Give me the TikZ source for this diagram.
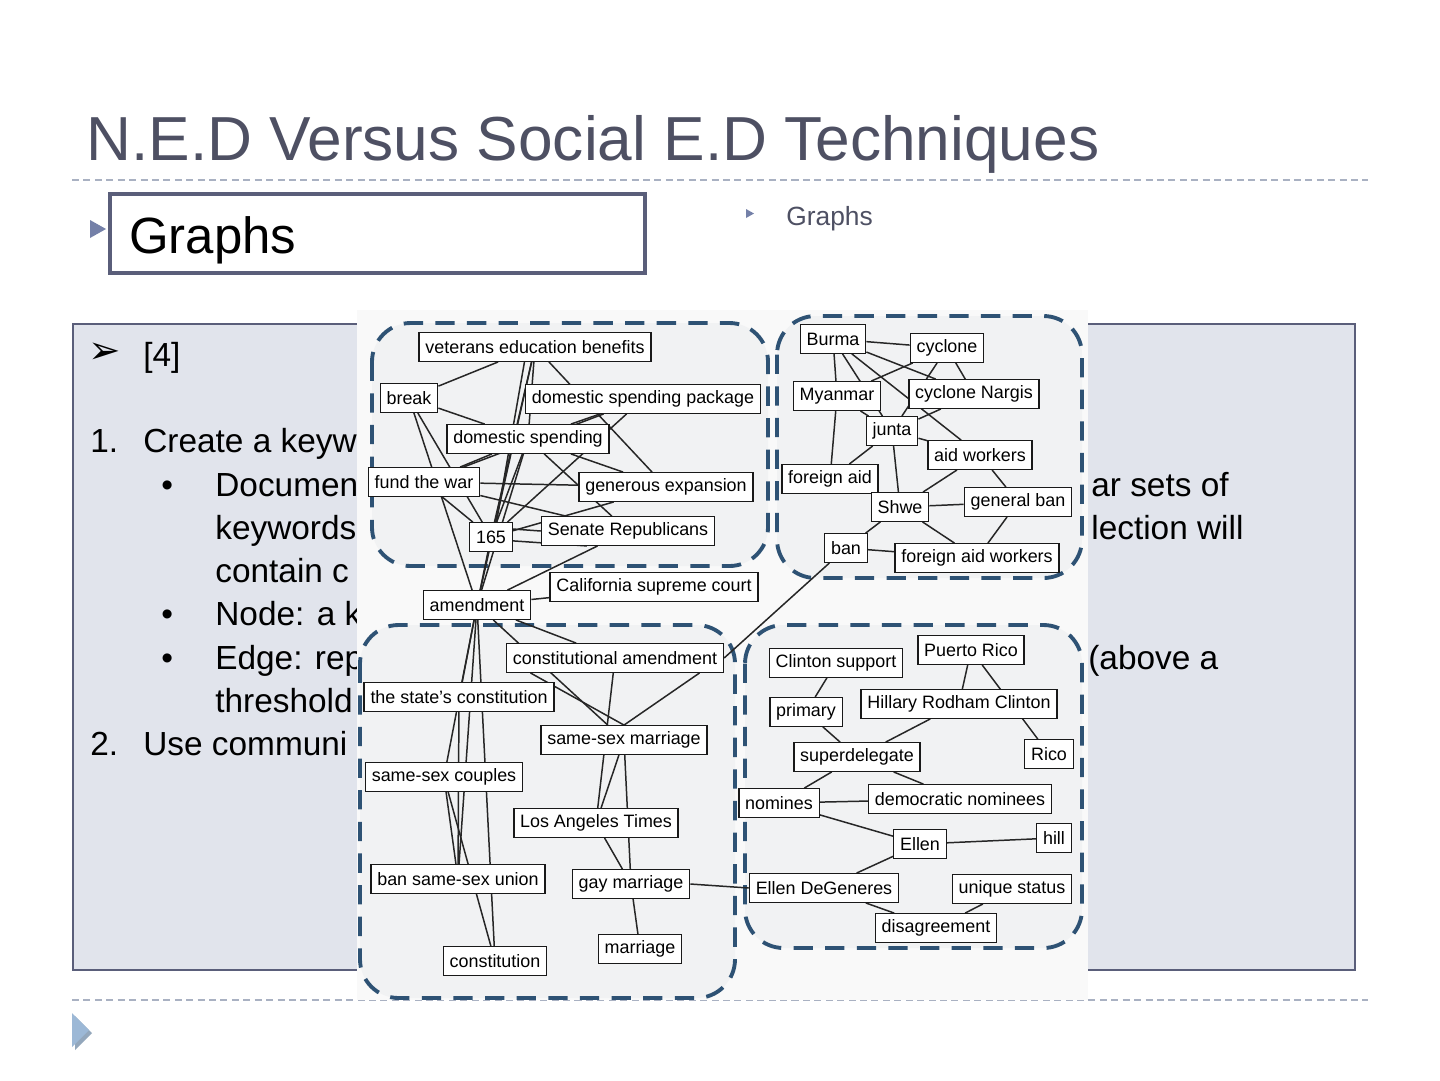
\documentclass[tikz,border=0pt]{standalone}
\usepackage{fontspec}
\setmainfont{Liberation Sans}
\newfontfamily\arrowfont{DejaVu Sans}
\usepackage{tikz}
\usepackage{xcolor}

\definecolor{titlegray}{HTML}{4E5063}
\definecolor{rulegray}{HTML}{A9B1C2}
\definecolor{panelfill}{HTML}{E1E4EC}
\definecolor{panelline}{HTML}{5A5E7A}
\definecolor{bulletblue}{HTML}{7480A8}
\definecolor{footblue}{HTML}{9CB8D6}
\definecolor{groupblue}{HTML}{2E5274}
\definecolor{groupfill}{HTML}{F1F2F3}
\definecolor{imgbg}{HTML}{F9F9F9}

\pgfdeclarelayer{back}
\pgfdeclarelayer{mid}
\pgfsetlayers{back,mid,main}

\begin{document}
\begin{tikzpicture}[x=0.02cm,y=-0.02cm,
  kw/.style={draw=black!90, fill=white, line width=0.8pt, inner xsep=3.6pt, inner ysep=0pt,
    minimum height=16.2pt, font=\fontsize{10.2}{12}\selectfont},
  link/.style={black!85, line width=0.85pt},
  group/.style={draw=groupblue, fill=groupfill, line width=2.2pt, dash pattern=on 11pt off 7pt,
    rounded corners=22pt},
  body/.style={anchor=base west, inner sep=0pt, font=\fontsize{19}{22}\selectfont},
  dashrule/.style={rulegray, line width=0.8pt, dash pattern=on 4pt off 2.5pt}]

  \useasboundingbox (0,0) rectangle (1440,1080);

  \begin{pgfonlayer}{back}
  \fill[white] (0,0) rectangle (1440,1080);
  \node[anchor=base west, inner sep=0pt, text=titlegray, font=\fontsize{35.4}{40}\selectfont]
    (title) at (86,160) {N.E.D Versus Social E.D Techniques};
  \draw[dashrule] (72,180) -- (1368,180);
  \draw[dashrule] (72,1000) -- (1368,1000);

  \fill[bulletblue] (90,220) -- (106,229) -- (90,238) -- cycle;
  \draw[panelline, line width=2pt, fill=white] (110,194) rectangle (645,273);
  \node[anchor=base west, inner sep=0pt, font=\fontsize{29}{34}\selectfont] (graphsbig) at (129,253) {Graphs};
  \fill[bulletblue] (746,209) -- (754,213.5) -- (746,218) -- cycle;
  \node[anchor=base west, inner sep=0pt, text=titlegray, font=\fontsize{15}{18}\selectfont]
    (graphssmall) at (786,225) {Graphs};

  \draw[panelline, line width=1.2pt, fill=panelfill] (73,324) rectangle (1355,970);
  \node[body, font=\arrowfont\fontsize{22}{24}\selectfont] (refmark) at (88,363) {➢};
  \node[body] (ref) at (143,366) {[4]};
  \node[body] (num1) at (90,452) {1.};
  \node[body] (step1) at (143,452) {Create a keyw};
  \foreach \y/\nm in {496/dotA, 625/dotB, 669/dotC}
    \node[body] (\nm) at (161,\y) {•};
  \node[body] (docs) at (215,496) {Documen};
  \node[body] (kwds) at (215,539) {keywords};
  \node[body] (cont) at (215,582) {contain c};
  \node[body] (nodeline) at (215,625) {Node: a k};
  \node[body] (edgeline) at (215,669) {Edge: rep};
  \node[body] (thres) at (215,712) {threshold};
  \node[body] (num2) at (90,755) {2.};
  \node[body] (step2) at (143,755) {Use communi};
  \node[body] (docsend) at (1091,496) {ar sets of};
  \node[body] (kwdsend) at (1091,539) {lection will};
  \node[body] (edgeend) at (1088,669) {(above a};

  \fill[footblue!70!gray] (75,1016) -- (92,1033) -- (75,1050) -- cycle;
  \fill[footblue] (72,1013) -- (89,1030) -- (72,1047) -- cycle;

  \fill[imgbg] (357,310) rectangle (1088,1000);
  \draw[group] (372,323) rectangle (768,566);
  \draw[group] (777,316) rectangle (1082,578);
  \draw[group] (360,625) rectangle (735,998);
  \draw[group] (745,625) rectangle (1082,948);
  \end{pgfonlayer}

  \node[kw] (veb) at (535,347) {veterans education benefits};
  \node[kw] (break) at (409,398) {break};
  \node[kw] (dsp) at (643,399) {domestic spending package};
  \node[kw] (ds) at (528,439) {domestic spending};
  \node[kw] (ftw) at (424,482) {fund the war};
  \node[kw] (ge) at (666,487) {generous expansion};
  \node[kw] (n165) at (491,537) {165};
  \node[kw] (sr) at (628,531) {Senate Republicans};
  \node[kw] (csc) at (654,587) {California supreme court};
  \node[kw] (amend) at (477,605) {amendment};

  \node[kw] (burma) at (833,339) {Burma};
  \node[kw] (cyclone) at (947,348) {cyclone};
  \node[kw] (myanmar) at (837,396) {Myanmar};
  \node[kw] (nargis) at (974,394) {cyclone Nargis};
  \node[kw] (junta) at (892,431) {junta};
  \node[kw] (aid) at (980,455) {aid workers};
  \node[kw] (fa) at (830,479) {foreign aid};
  \node[kw] (shwe) at (900,507) {Shwe};
  \node[kw] (gb) at (1018,502) {general ban};
  \node[kw] (ban) at (846,548) {ban};
  \node[kw] (faw) at (977,558) {foreign aid workers};

  \node[kw] (ca) at (615,658) {constitutional amendment};
  \node[kw] (tsc) at (459,697) {the state's constitution};
  \node[kw] (ssm) at (624,740) {same-sex marriage};
  \node[kw] (ssc) at (444,777) {same-sex couples};
  \node[kw] (lat) at (596,823) {Los Angeles Times};
  \node[kw] (bssu) at (458,879) {ban same-sex union};
  \node[kw] (gm) at (631,884) {gay marriage};
  \node[kw] (const) at (495,961) {constitution};
  \node[kw] (marr) at (640,949) {marriage};

  \node[kw] (cs) at (836,663) {Clinton support};
  \node[kw] (pr) at (971,650) {Puerto Rico};
  \node[kw] (pri) at (806,712) {primary};
  \node[kw] (hrc) at (959,704) {Hillary Rodham Clinton};
  \node[kw] (sd) at (857,757) {superdelegate};
  \node[kw] (rico) at (1049,754) {Rico};
  \node[kw] (nom) at (779,803) {nomines};
  \node[kw] (dn) at (960,799) {democratic nominees};
  \node[kw] (ellen) at (920,844) {Ellen};
  \node[kw] (hill) at (1054,838) {hill};
  \node[kw] (edg) at (824,888) {Ellen DeGeneres};
  \node[kw] (us) at (1012,889) {unique status};
  \node[kw] (dis) at (936,928) {disagreement};

  \begin{pgfonlayer}{mid}
  \foreach \a/\b in {veb/break, veb/ds, veb/n165, veb/amend, veb/ge, break/ds, break/n165,
      break/amend, dsp/ds, dsp/n165, dsp/ftw, ds/ftw, ds/sr, ds/ge, ds/n165, ds/amend,
      ftw/ge, ftw/sr, ftw/n165, n165/ge, n165/amend, sr/amend, amend/csc}
    \draw[link] (\a) -- (\b);
  \draw[link] (n165.20) -- (sr.west);
  \draw[link] (n165.-10) -- (sr.200);
  \draw[link] ([xshift=-6pt]veb.south) -- (n165.70);

  \foreach \a/\b in {burma/cyclone, burma/myanmar, burma/junta, burma/nargis, burma/aid,
      cyclone/myanmar, cyclone/junta, cyclone/nargis, myanmar/fa, myanmar/junta, nargis/junta,
      junta/fa, junta/shwe, junta/aid, aid/shwe, aid/gb, shwe/gb, shwe/ban, shwe/faw,
      gb/faw, ban/faw}
    \draw[link] (\a) -- (\b);

  \foreach \a/\b in {amend/ca, amend/ssm, amend/tsc, amend/ssc, amend/bssu, amend/const,
      tsc/bssu, ssc/bssu, ssc/const, ca/lat, ssm/lat, ssm/gm, lat/gm, gm/marr}
    \draw[link] (\a) -- (\b);
  \draw[link] ([xshift=14pt]ca.south west) -- (ssm.north);
  \draw[link] ([xshift=-14pt]ca.south east) -- (ssm.north);
  \draw[link] (ca.east) -- (ban);
  \draw[link] (gm.east) -- (edg.west);

  \foreach \a/\b in {cs/pri, pr/hrc, pr/rico, hrc/sd, pri/sd, sd/nom, sd/dn, nom/dn,
      nom/ellen, ellen/hill, ellen/edg, edg/dis, us/dis}
    \draw[link] (\a) -- (\b);
  \end{pgfonlayer}
\end{tikzpicture}
\end{document}
